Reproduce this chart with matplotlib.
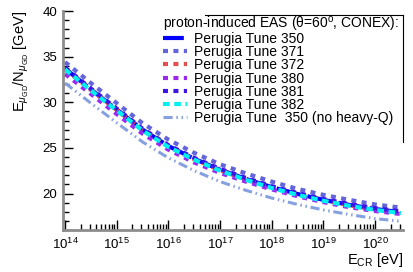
import numpy as np
import matplotlib
matplotlib.use('Agg')
import matplotlib.pyplot as plt
from matplotlib.ticker import LogLocator, MultipleLocator
from matplotlib.lines import Line2D

plt.rcParams['font.family'] = ['Liberation Sans', 'DejaVu Sans']
plt.rcParams['mathtext.fontset'] = 'custom'
plt.rcParams['mathtext.rm'] = 'Liberation Sans'
plt.rcParams['mathtext.it'] = 'Liberation Sans:italic'

# log10(E/eV) grid and <E_mu>/N_mu values
log_e = [14.0, 14.5, 15.0, 15.5, 16.0, 16.5, 17.0, 17.5, 18.0, 18.5, 19.0, 19.5, 20.0, 20.5]
tune350 = [33.7, 31.4, 29.2, 27.0, 25.2, 23.8, 22.6, 21.6, 20.7, 19.95, 19.3, 18.75, 18.3, 17.95]
tune371 = [34.4, 32.1, 29.9, 27.7, 25.9, 24.45, 23.2, 22.2, 21.3, 20.5, 19.85, 19.3, 18.8, 18.45]
tune372 = [33.6, 31.35, 29.15, 26.95, 25.15, 23.75, 22.55, 21.55, 20.65, 19.9, 19.25, 18.7, 18.25, 17.9]
tune380 = [33.1, 30.9, 28.7, 26.55, 24.8, 23.4, 22.25, 21.3, 20.45, 19.7, 19.05, 18.5, 18.08, 17.75]
tune381 = [33.8, 31.5, 29.3, 27.1, 25.3, 23.9, 22.7, 21.7, 20.8, 20.05, 19.4, 18.85, 18.4, 18.05]
tune382 = [33.6, 31.3, 29.1, 26.9, 25.1, 23.7, 22.5, 21.5, 20.6, 19.85, 19.2, 18.65, 18.2, 17.85]
tune350_noq = [32.1, 29.9, 27.75, 25.65, 23.9, 22.5, 21.3, 20.35, 19.5, 18.8, 18.2, 17.7, 17.25, 16.95]

labels = ['Perugia Tune 350', 'Perugia Tune 371', 'Perugia Tune 372', 'Perugia Tune 380',
          'Perugia Tune 381', 'Perugia Tune 382', 'Perugia Tune  350 (no heavy-Q)']
legend_title = 'proton-induced EAS (θ=60$^{\\rm o}$, CONEX):'
decades = [14, 15, 16, 17, 18, 19, 20]

energy = 10.0 ** np.array(log_e)

fig = plt.figure(figsize=(4.14, 2.72), dpi=100)
ax = fig.add_axes([63/414, 1 - 230/272, 340/414, 219/272])

lw = 3.0
ax.plot(energy, tune350, color='#0000ff', lw=lw, dashes=(5, 0.8, 1, 0.8), label=labels[0])
ax.plot(energy, tune371, color='#6464dc', lw=lw, dashes=(1.2, 1.3), label=labels[1])
ax.plot(energy, tune372, color='#e0504a', lw=lw, dashes=(1.2, 1.3), label=labels[2])
ax.plot(energy, tune380, color='#9a28f0', lw=lw, dashes=(1.2, 1.3), label=labels[3])
ax.plot(energy, tune381, color='#3c14e6', lw=lw, dashes=(1.2, 1.3), label=labels[4])
ax.plot(energy, tune382, color='#00f0f0', lw=lw, dashes=(1.6, 1.1), label=labels[5])
ax.plot(energy, tune350_noq, color='#86a0e0', lw=2.2, dashes=(3, 1.2, 0.5, 1.2, 0.5, 1.2), label=labels[6])

ax.set_xscale('log')
ax.set_xlim(10**13.96, 10**20.54)
ax.set_ylim(16, 40)

ax.set_xticks([10.0**d for d in decades])
ax.set_xticklabels([r'$10^{%d}$' % d for d in decades])
ax.xaxis.set_minor_locator(LogLocator(base=10, subs=np.arange(2, 10), numticks=20))
ax.xaxis.set_minor_formatter(plt.NullFormatter())
ax.yaxis.set_major_locator(MultipleLocator(5))
ax.yaxis.set_minor_locator(MultipleLocator(1))
ax.tick_params(which='both', direction='in', labelsize=9.5, colors='black')
ax.tick_params(which='major', length=7, width=1)
ax.tick_params(which='minor', length=4, width=1)
ax.tick_params(axis='x', which='major', pad=5)
ax.tick_params(axis='y', which='major', pad=4)

for s in ['top', 'right']:
    ax.spines[s].set_visible(False)
for s in ['left', 'bottom']:
    ax.spines[s].set_color('#8c8c8c')
    ax.spines[s].set_linewidth(2)

ax.set_ylabel(r'E$_{\mu_{\rm GD}}$/N$_{\mu_{\rm GD}}$ [GeV]', fontsize=10.5, loc='top')
ax.yaxis.set_label_coords(-0.095, 1.0)
ax.set_xlabel(r'E$_{\rm CR}$ [eV]', fontsize=10.5, loc='right')
ax.xaxis.set_label_coords(1.0, -0.095)

# legend: title as a plain text line, entries below it
fig.text(163/414, 1 - 24/272, legend_title, fontsize=10, ha='left', va='center')
leg = ax.legend(loc='upper left', bbox_to_anchor=(163/414, 1 - 32/272), bbox_transform=fig.transFigure,
                frameon=False, fontsize=10, handlelength=1.75, handletextpad=0.45, labelspacing=-0.06,
                borderpad=0, borderaxespad=0)

# legend box edges (only the top and right edges show)
fig.add_artist(Line2D([205/414, 403/414], [1 - 15/272, 1 - 15/272], color='black', lw=0.8))
fig.add_artist(Line2D([403/414, 403/414], [1 - 15/272, 1 - 142/272], color='black', lw=0.8))

fig.savefig('out.png', dpi=100)
